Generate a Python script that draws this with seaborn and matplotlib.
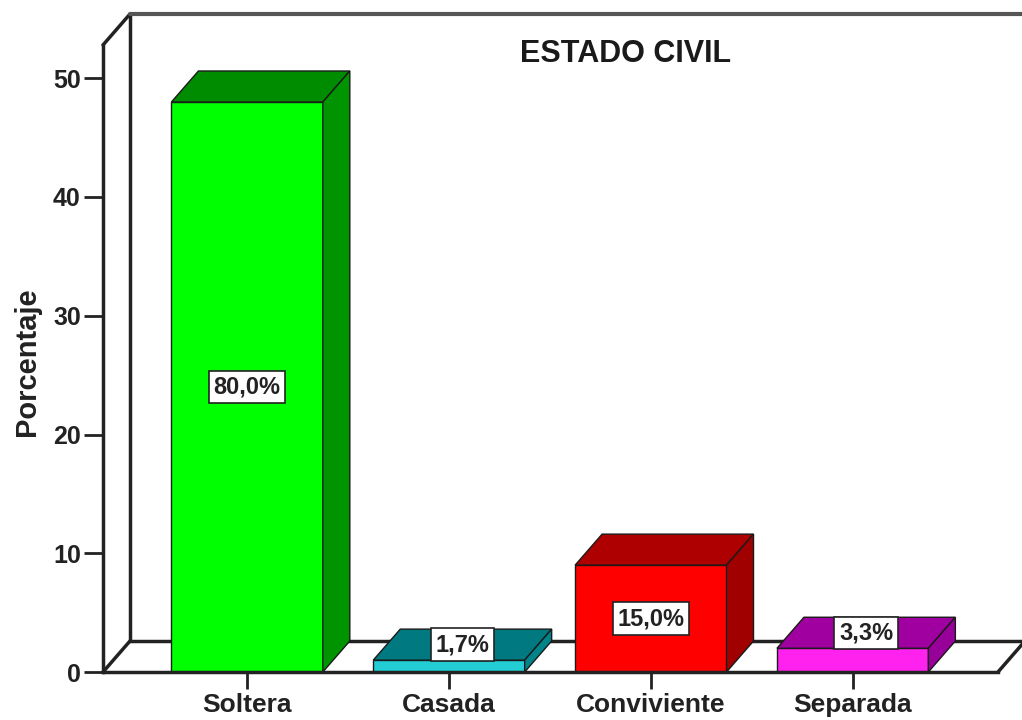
import numpy as np
import pandas as pd
import matplotlib
matplotlib.use('Agg')
import matplotlib.pyplot as plt
from matplotlib.patches import Polygon
import seaborn as sns

# Data (bar heights are counts out of 60, labels are %)
categories = ['Soltera', 'Casada', 'Conviviente', 'Separada']
counts = [48, 1, 9, 2]
pct_labels = ['80,0%', '1,7%', '15,0%', '3,3%']
y_ticks = [0, 10, 20, 30, 40, 50]

# Colors for front, top and side faces of the 3D bars
front_colors = ['#00FF00', '#22CED4', '#FF0000', '#FF22EE']
top_colors = ['#008C00', '#007A80', '#AE0000', '#A000A0']
side_colors = ['#009400', '#00848A', '#A00000', '#98009A']

sns.set_theme(style='white')
plt.rcParams['font.family'] = ['Liberation Sans', 'DejaVu Sans']

df = pd.DataFrame({'estado': categories, 'n': counts})

fig = plt.figure(figsize=(10.22, 7.2), dpi=100)
fig.patch.set_facecolor('white')
ax = fig.add_axes([103 / 1022, 48 / 720, 895 / 1022, 627 / 720])
ax.patch.set_alpha(0)

sns.barplot(data=df, x='estado', y='n', hue='estado', palette=front_colors,
            saturation=1, width=0.75, edgecolor='#1a1a1a', linewidth=1,
            errorbar=None, legend=False, ax=ax, zorder=3)

xmin, xmax = -0.714, 3.72
ymax = 52.8
ax.set_xlim(xmin, xmax)
ax.set_ylim(0, ymax)

# depth of the 3D effect, in data units
px_x = 895 / (xmax - xmin)
px_y = 627 / ymax
dx = 27 / px_x
dy = 31 / px_y

line_col = '#222222'
lw = 2.5

# back wall and floor
frame = [
    ([xmin + dx, xmax + dx], [dy, dy]),
    ([xmin + dx, xmin + dx], [dy, ymax + dy]),
    ([xmin, xmin + dx], [ymax, ymax + dy]),
    ([xmin, xmin + dx], [0, dy]),
    ([xmax, xmax + dx], [0, dy]),
]
for xs, ys in frame:
    ax.plot(xs, ys, color=line_col, lw=lw, clip_on=False, zorder=1,
            solid_capstyle='round')
ax.plot([xmin + dx, xmax + dx + 1], [ymax + dy, ymax + dy], color='#555555',
        lw=3, clip_on=False, zorder=1)

# top and side faces of each bar
for i, p in enumerate(ax.patches):
    x0, w, h = p.get_x(), p.get_width(), p.get_height()
    top = [(x0, h), (x0 + w, h), (x0 + w + dx, h + dy), (x0 + dx, h + dy)]
    side = [(x0 + w, 0), (x0 + w + dx, dy), (x0 + w + dx, h + dy), (x0 + w, h)]
    ax.add_patch(Polygon(top, closed=True, fc=top_colors[i], ec='#1a1a1a',
                         lw=1, zorder=3, clip_on=False))
    ax.add_patch(Polygon(side, closed=True, fc=side_colors[i], ec='#1a1a1a',
                         lw=1, zorder=3, clip_on=False))
    if h < 5:
        lx, ly = x0 + w / 2 + dx / 2, h + dy / 2
    else:
        lx, ly = x0 + w / 2, h / 2
    ax.text(lx, ly, pct_labels[i], ha='center', va='center', fontsize=17,
            fontweight='bold', color='#222222', zorder=6,
            bbox=dict(boxstyle='square,pad=0.2', fc='white', ec='#222222', lw=1.2))

# axes styling
for s in ['top', 'right']:
    ax.spines[s].set_visible(False)
for s in ['left', 'bottom']:
    ax.spines[s].set_color(line_col)
    ax.spines[s].set_linewidth(lw)
    ax.spines[s].set_zorder(4)

ax.set_yticks(y_ticks)
ax.set_xticks(range(len(categories)))
ax.set_xticklabels(categories)
ax.tick_params(axis='y', left=True, length=14, width=2, color=line_col,
               pad=2, labelsize=18, labelcolor='#222222')
ax.tick_params(axis='x', bottom=True, length=12, width=2, color=line_col,
               pad=3, labelsize=19, labelcolor='#222222')
for lab in ax.get_xticklabels() + ax.get_yticklabels():
    lab.set_fontweight('bold')

ax.set_xlabel('')
ax.set_ylabel('')
fig.text(27 / 1022, 1 - 362 / 720, 'Porcentaje', rotation=90, ha='center',
         va='center', fontsize=21, fontweight='bold', color='#222222')
fig.text(626 / 1022, 1 - 54 / 720, 'ESTADO CIVIL', ha='center', va='center',
         fontsize=22, fontweight='bold', color='#1a1a1a')

fig.savefig('out.png', dpi=100, facecolor='white')
